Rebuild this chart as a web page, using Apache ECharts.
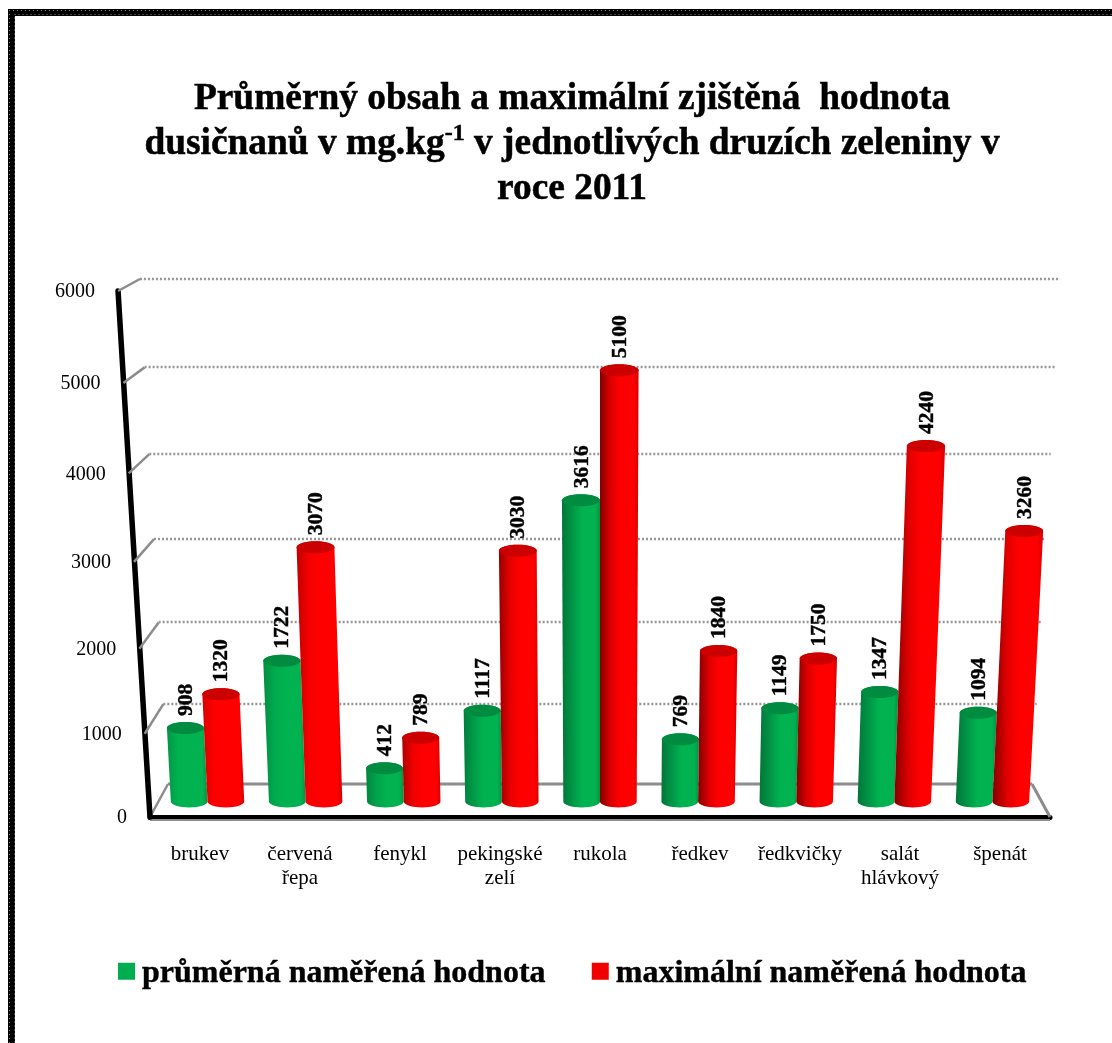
<!DOCTYPE html>
<html>
<head>
<meta charset="utf-8">
<title>Dusičnany v zelenině 2011</title>
<style>html,body{margin:0;padding:0;background:#fff}#chart{width:1112px;height:1043px}</style>
<script src="https://cdn.jsdelivr.net/npm/echarts@6/dist/echarts.min.js"></script>
</head>
<body>
<div id="chart"></div>
<script>
const categories = ['brukev', 'červená\nřepa', 'fenykl', 'pekingské\nzelí', 'rukola', 'ředkev', 'ředkvičky', 'salát\nhlávkový', 'špenát'];
const averageValues = [908, 1722, 412, 1117, 3616, 769, 1149, 1347, 1094];
const maximumValues = [1320, 3070, 789, 3030, 5100, 1840, 1750, 4240, 3260];
const valueTicks = [0, 1000, 2000, 3000, 4000, 5000, 6000];
const averageName = 'průměrná naměřená hodnota';
const maximumName = 'maximální naměřená hodnota';
const SERIF = '"Liberation Serif", "Times New Roman", serif';

// Perspective of the box: depth 0 is the front plane (the cartesian grid), depth 1 the back wall.
const CENTER_X = 600, BAR_DEPTH = 0.47, BOW = 0.06;
function project(api, px, py, depth, lean) {
  const y0 = api.coord([0, 0])[1];
  const h = y0 - api.coord([0, 6000])[1];
  const t = (y0 - py) / h;
  const f = t - BOW * t * (1 - t);
  const slope = lean === undefined ? 0.071 - 0.006 * depth : lean;
  const spread = (1 - 0.04 * depth) * (1 + slope * t);
  const shrink = lean === undefined ? 21 * depth : 30 * depth;
  return [
    CENTER_X + (px - CENTER_X) * spread,
    y0 - 33 * depth - (h - shrink) * f
  ];
}

// Back wall, floor and the leaning value axis, one call per tick.
function renderWall(params, api) {
  const v = api.value(0);
  const right = api.coord([categories.length - 1, 0])[0] + api.size([1, 0])[0] / 2;
  const left = api.coord([0, 0])[0] - api.size([1, 0])[0] / 2;
  const y = api.coord([0, v])[1];
  const frontL = project(api, left, y, 0);
  const backL = project(api, left, y, 1);
  const backR = project(api, right, y, 1);
  const gray = '#8c8c8c';
  const line = (a, b, extra) => ({
    type: 'line',
    shape: { x1: a[0], y1: a[1], x2: b[0], y2: b[1] },
    style: Object.assign({ stroke: gray, lineWidth: 2.5 }, extra || {})
  });
  const children = [line(frontL, backL)];
  if (v === 0) {
    const frontR = project(api, right, y, 0);
    children.push(line(backL, backR, { lineWidth: 3 }));
    children.push(line(frontR, backR, { lineWidth: 3 }));
    children.push(line([frontL[0], frontL[1] + 3], [frontR[0], frontR[1] + 3], { lineWidth: 2 }));
    const topL = project(api, left, api.coord([0, 6000])[1], 0);
    children.push(line(frontL, topL, { stroke: '#000', lineWidth: 5.5, lineCap: 'round' }));
  } else {
    const wy = Math.round(backL[1]);
    children.push(line([backL[0], wy], [backR[0], wy], { lineDash: [2, 2], lineWidth: 2.5, stroke: '#969696' }));
  }
  children.push({
    type: 'text',
    style: {
      x: frontL[0] - 23, y: frontL[1] + 1, text: String(v),
      font: '20px ' + SERIF, fill: '#000', textAlign: 'right', textVerticalAlign: 'middle'
    }
  });
  return { type: 'group', children };
}

// The left flank of a cylinder falls deeper into shadow towards the right of the chart.
function mixColor(from, to, k) {
  const c = from.map((v, i) => Math.round(v + (to[i] - v) * k));
  return 'rgb(' + c.join(',') + ')';
}

// One shaded cylinder with its value written upright along the top.
function cylinderRenderer(side, shade, topColor) {
  return function (params, api) {
    const idx = api.value(0), val = api.value(1);
    const band = api.size([1, 0])[0];
    const r = band * 0.187;
    const ry = 6;
    const lean = 0.06;
    const cx = api.coord([idx, 0])[0] + side * r;
    const y0 = api.coord([idx, 0])[1];
    const yTop = api.coord([idx, val])[1];
    const steps = 10;
    const leftEdge = [], rightEdge = [];
    for (let i = 0; i <= steps; i++) {
      const y = y0 + (yTop - y0) * i / steps;
      leftEdge.push(project(api, cx - r, y, BAR_DEPTH, lean));
      rightEdge.push(project(api, cx + r, y, BAR_DEPTH, lean));
    }
    const a = project(api, cx, yTop, BAR_DEPTH, lean);
    const b = project(api, cx, y0, BAR_DEPTH, lean);
    const halfTop = (rightEdge[steps][0] - leftEdge[steps][0]) / 2;
    const halfBase = (rightEdge[0][0] - leftEdge[0][0]) / 2;
    const pts = [];
    for (let i = 0; i <= steps; i++) pts.push(leftEdge[i]);
    for (let k = 1; k < 16; k++) {
      const th = Math.PI * k / 16;
      pts.push([a[0] - Math.cos(th) * halfTop, a[1] - Math.sin(th) * ry]);
    }
    for (let i = steps; i >= 0; i--) pts.push(rightEdge[i]);
    for (let k = 1; k < 16; k++) {
      const th = Math.PI * k / 16;
      pts.push([b[0] + Math.cos(th) * halfBase, b[1] + Math.sin(th) * ry]);
    }
    const depthOfShadow = Math.min(1, idx / 4);
    const stops = [
      { offset: 0, color: mixColor(shade.litEdge, shade.darkEdge, depthOfShadow) },
      { offset: 0.28, color: mixColor(shade.body, shade.darkMid, depthOfShadow) },
      { offset: 0.52, color: mixColor(shade.body, shade.body, 0) },
      { offset: 0.88, color: mixColor(shade.body, shade.body, 0) },
      { offset: 1, color: shade.rim }
    ];
    return {
      type: 'group',
      children: [
        {
          type: 'polygon',
          shape: { points: pts },
          style: { fill: new echarts.graphic.LinearGradient(0, 0, 1, 0, stops) }
        },
        {
          type: 'ellipse',
          shape: { cx: a[0], cy: a[1], rx: halfTop, ry: ry },
          style: { fill: topColor }
        },
        {
          type: 'text',
          x: a[0] + 1, y: a[1] - 12, rotation: Math.PI / 2,
          style: {
            x: 0, y: 0, text: String(val),
            font: 'bold 21.5px ' + SERIF, fill: '#000',
            stroke: '#000', lineWidth: 0.4,
            textAlign: 'left', textVerticalAlign: 'middle'
          }
        }
      ]
    };
  };
}

const greenShade = { litEdge: [0, 150, 70], darkEdge: [0, 118, 56], body: [0, 178, 80], darkMid: [0, 150, 70], rim: 'rgb(0,148,68)' };
const redShade = { litEdge: [214, 0, 0], darkEdge: [130, 0, 0], body: [255, 0, 0], darkMid: [222, 0, 0], rim: 'rgb(216,0,0)' };

const framePath = [[11.5, 1043], [11.5, 12.5], [1112, 12.5]];
const frameOuter = [[9.5, 1043], [9.5, 10.5], [1112, 10.5]];
const frameInner = [[14.5, 1043], [14.5, 14.5], [1112, 14.5]];

const chart = echarts.init(document.getElementById('chart'), null, { renderer: 'canvas' });
chart.setOption({
  animation: false,
  backgroundColor: '#fff',
  title: {
    text: 'Průměrný obsah a maximální zjištěná  hodnota\ndusičnanů v mg.kg{sup|-1} v jednotlivých druzích zeleniny v\nroce 2011',
    left: 567, top: 72, textAlign: 'center',
    textStyle: {
      fontFamily: SERIF, fontWeight: 'bold', fontSize: 37.4, color: '#000', lineHeight: 45,
      textBorderColor: '#000', textBorderWidth: 0.5,
      rich: { sup: { fontFamily: SERIF, fontWeight: 'bold', fontSize: 24, verticalAlign: 'top', lineHeight: 30, padding: [0, 0, 14, 0], color: '#000', textBorderColor: '#000', textBorderWidth: 0.5 } }
    }
  },
  legend: {
    data: [averageName, maximumName],
    left: 113, top: 953,
    itemWidth: 17, itemHeight: 23, itemGap: 46,
    // Square swatch sitting slightly above the middle of its box
    icon: 'path://M0 0H17V17H0Z M0 23L0 23Z',
    textStyle: { fontFamily: SERIF, fontWeight: 'bold', fontSize: 32, color: '#000', padding: [0, 0, 0, 2], textBorderColor: '#000', textBorderWidth: 0.4 },
    selectedMode: false
  },
  grid: { left: 150, right: 62, top: 291, bottom: 226 },
  xAxis: {
    type: 'category',
    data: categories,
    axisTick: { show: false },
    axisLine: { show: true, lineStyle: { color: '#000', width: 5 } },
    axisLabel: { interval: 0, margin: 25, fontFamily: SERIF, fontSize: 21, lineHeight: 24, color: '#000', verticalAlign: 'top' },
    splitLine: { show: false }
  },
  yAxis: {
    type: 'value',
    min: 0, max: 6000, interval: 1000,
    axisLine: { show: false }, axisTick: { show: false },
    axisLabel: { show: false }, splitLine: { show: false }
  },
  graphic: [
    // Textured frame along the left and top edges of the sheet
    { type: 'polyline', z: 0, shape: { points: framePath }, style: { fill: 'none', stroke: '#000', lineWidth: 7 } },
    { type: 'polyline', z: 1, shape: { points: frameOuter }, style: { fill: 'none', stroke: '#8a8a8a', lineWidth: 1, lineDash: [1, 3] } },
    { type: 'polyline', z: 1, shape: { points: frameInner }, style: { fill: 'none', stroke: '#444', lineWidth: 1, lineDash: [2, 2] } }
  ],
  series: [
    {
      type: 'custom', name: 'mřížka', z: 1, silent: true,
      coordinateSystem: 'cartesian2d',
      encode: { y: 0 },
      data: valueTicks.map(v => [v]),
      renderItem: renderWall
    },
    {
      type: 'custom', name: averageName, z: 3,
      coordinateSystem: 'cartesian2d',
      encode: { x: 0, y: 1 },
      itemStyle: { color: '#00ae50' },
      data: averageValues.map((v, i) => [i, v]),
      renderItem: cylinderRenderer(-1, greenShade, '#008c40')
    },
    {
      type: 'custom', name: maximumName, z: 4,
      coordinateSystem: 'cartesian2d',
      encode: { x: 0, y: 1 },
      itemStyle: { color: '#f00000' },
      data: maximumValues.map((v, i) => [i, v]),
      renderItem: cylinderRenderer(1, redShade, '#cc0000')
    }
  ]
});
</script>
</body>
</html>
